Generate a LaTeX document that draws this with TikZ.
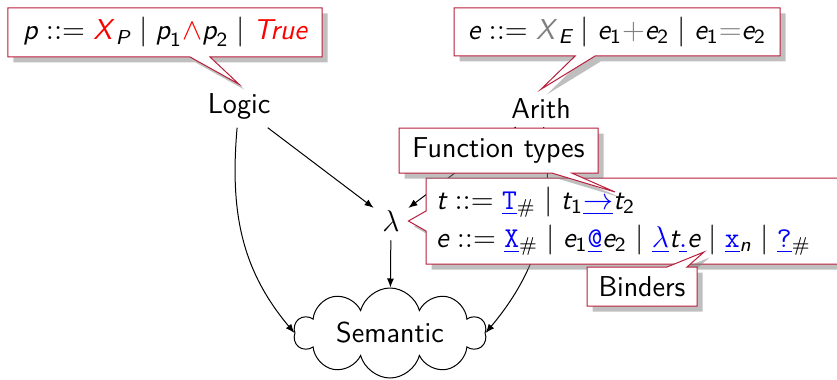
\documentclass[tikz,border=0pt]{standalone}
\usepackage{amsmath}
\usepackage{fontspec}
\usetikzlibrary{shapes.callouts,shapes.symbols,shadows,arrows.meta}
\definecolor{callred}{RGB}{185,30,60}
\newcommand\vr[1]{\textit{#1}}
\newcommand\lk[1]{\textcolor{blue}{\underline{#1}}}
\newcommand\defeq{\mathrel{{:}{:}{=}}}
\begin{document}
\begin{tikzpicture}[x=0.4pt,y=0.4pt,
  every node/.style={font=\sffamily\fontsize{11.5}{13.8}\selectfont},
  callbox/.style={rectangle callout, draw=callred, fill=white, inner sep=2pt,
    callout pointer width=8pt,
    drop shadow={shadow xshift=2.2pt, shadow yshift=-2.2pt, opacity=.5, fill=black!50}},
  arr/.style={-{Latex[length=3.6pt,width=2.8pt]}}]
\useasboundingbox (0,0) rectangle (837,-379);

\node[anchor=base] (logic) at (239,-113) {Logic};
\node[anchor=base] (arith) at (541,-118) {Arith};
\node (lam) at (391,-221) {$\lambda$};
\node[cloud, draw, cloud puffs=10, cloud ignores aspect, inner sep=1pt,
  minimum width=76.8pt, minimum height=36pt] (sem) at (390,-333) {Semantic};

\draw[arr] (logic) -- (lam);
\draw[arr] (arith) -- (lam);
\draw[arr] (lam) -- (sem);
\draw[arr] (logic) to[out=-95,in=130] (sem.west);
\draw[arr] (arith) to[out=-82,in=50] (sem.east);

\coordinate (ftip) at (615,-192);
\coordinate (btip) at (704,-252);

\node[callbox, minimum width=125.6pt, minimum height=19.6pt,
  callout absolute pointer={(logic.north)}] (cp) at (165,-32.5)
  {$\vr{p} \defeq {\textcolor{red}{\vr{X}}\kern1.5pt}_{\vr{P}} \mid \vr{p}_{\textsf{1}}\textcolor{red}{\wedge}\vr{p}_{\textsf{2}} \mid \textcolor{red}{\vr{True}}$};

\node[callbox, minimum width=130.4pt, minimum height=19.2pt,
  callout absolute pointer={(arith.north)}] (ce) at (617,-32)
  {$\vr{e} \defeq {\textcolor{gray}{\vr{X}}\kern1.5pt}_{\vr{E}} \mid \vr{e}_{\textsf{1}}\textcolor{gray}{+}\vr{e}_{\textsf{2}} \mid \vr{e}_{\textsf{1}}\textcolor{gray}{=}\vr{e}_{\textsf{2}}$};

\node[callbox, inner xsep=4pt, inner ysep=2pt, text width=168.8pt, align=left,
  minimum height=34.4pt,
  font=\sffamily\fontsize{11.5}{15.2}\selectfont,
  callout absolute pointer={(lam.east)}] (cl) at (647,-221)
  {$\vr{t} \defeq \lk{\texttt{T}}_{\#} \mid \vr{t}_{\textsf{1}}\lk{\to}\vr{t}_{\textsf{2}}$\\
   $\vr{e} \defeq \lk{\texttt{X}}_{\#} \mid \vr{e}_{\textsf{1}}\lk{\texttt{@}}\vr{e}_{\textsf{2}} \mid \lk{\lambda}\vr{t}\lk{.}\vr{e} \mid \lk{\texttt{x}}_{\vr{n}} \mid \lk{\texttt{?}}_{\#}$};

\node[callbox, minimum width=79.6pt, minimum height=18pt,
  callout absolute pointer={(ftip)}] (cf) at (498.5,-150.5) {Function types};

\node[callbox, minimum width=44pt, minimum height=15.6pt,
  callout absolute pointer={(btip)}] (cb) at (642,-286.5) {Binders};
\end{tikzpicture}
\end{document}
